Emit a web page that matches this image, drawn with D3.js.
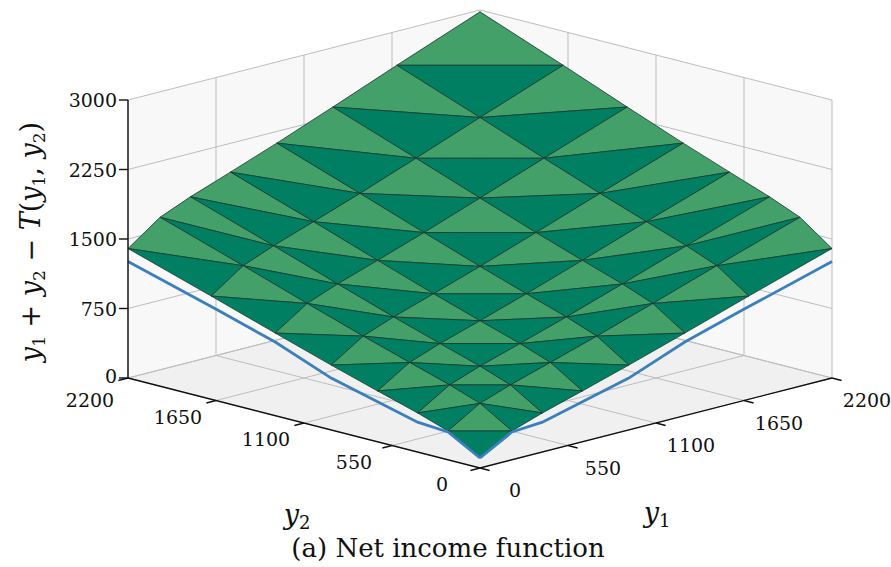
<!DOCTYPE html>
<html lang="en">
<head>
<meta charset="UTF-8">
<title>Net income function</title>
<script src="https://d3js.org/d3.v7.min.js"></script>
<style>
  body { margin: 0; background: #fff; }
  text { font-family: "DejaVu Serif", "Liberation Serif", serif; fill: #111; }
</style>
</head>
<body>
<svg id="chart" width="891" height="567"></svg>
<script>
// grid nodes (same for y1 and y2) and net income on them
const grid = [0, 200, 390, 640, 930, 1280, 1680, 2200];
const netIncome = [
  [108, 311, 422, 549, 700, 891, 1114, 1397],
  [311, 521, 636, 768, 924, 1122, 1353, 1646],
  [422, 636, 754, 888, 1047, 1249, 1484, 1783],
  [549, 768, 888, 1024, 1187, 1393, 1634, 1939],
  [700, 924, 1047, 1187, 1354, 1565, 1811, 2124],
  [891, 1122, 1249, 1393, 1565, 1783, 2036, 2359],
  [1114, 1353, 1484, 1634, 1811, 2036, 2299, 2633],
  [1397, 1646, 1783, 1939, 2124, 2359, 2633, 2980]
];
// single-earner curve drawn on both side planes
const singleY = [0, 200, 390, 930, 1280, 1640, 2200];
const singleZ = [108, 300, 322, 560, 794, 980, 1257];

const xyTicks = [0, 550, 1100, 1650, 2200];
const zTicks = [0, 750, 1500, 2250, 3000];

const svg = d3.select("#chart");

// oblique projection built from linear scales
const origin = [480, 468];
const s1x = d3.scaleLinear().domain([0, 2200]).range([0, 352]);
const s1y = d3.scaleLinear().domain([0, 2200]).range([0, -90]);
const s2x = d3.scaleLinear().domain([0, 2200]).range([0, -352]);
const s2y = d3.scaleLinear().domain([0, 2200]).range([0, -90]);
const sz = d3.scaleLinear().domain([0, 3000]).range([0, -278]);

function proj(a, b, z) {
  return [origin[0] + s1x(a) + s2x(b), origin[1] + s1y(a) + s2y(b) + sz(z)];
}
const line = d3.line();
const poly = pts => line(pts) + "Z";

// walls and floor
svg.append("path").attr("d", poly([proj(0,0,0), proj(2200,0,0), proj(2200,2200,0), proj(0,2200,0)]))
  .attr("fill", "#f0f0f0");
svg.append("path").attr("d", poly([proj(0,2200,0), proj(2200,2200,0), proj(2200,2200,3000), proj(0,2200,3000)]))
  .attr("fill", "#f8f8f8");
svg.append("path").attr("d", poly([proj(2200,0,0), proj(2200,2200,0), proj(2200,2200,3000), proj(2200,0,3000)]))
  .attr("fill", "#f8f8f8");

const gridG = svg.append("g").attr("stroke", "#bdbdbd").attr("stroke-width", 1).attr("fill", "none");
xyTicks.forEach(t => {
  gridG.append("path").attr("d", line([proj(t,0,0), proj(t,2200,0), proj(t,2200,3000)]));
  gridG.append("path").attr("d", line([proj(0,t,0), proj(2200,t,0), proj(2200,t,3000)]));
});
zTicks.forEach(z => {
  gridG.append("path").attr("d", line([proj(0,2200,z), proj(2200,2200,z), proj(2200,0,z)]));
});

// surface, back to front
const cells = [];
for (let i = 0; i < grid.length - 1; i++)
  for (let j = 0; j < grid.length - 1; j++) cells.push([i, j]);
cells.sort((p, q) => (q[0] + q[1]) - (p[0] + p[1]));
const P = (i, j) => proj(grid[i], grid[j], netIncome[i][j]);
const surf = svg.append("g").attr("stroke", "#17392f").attr("stroke-width", 0.8).attr("stroke-linejoin", "round");
cells.forEach(([i, j]) => {
  surf.append("path").attr("d", poly([P(i+1,j), P(i+1,j+1), P(i,j+1)])).attr("fill", "#43a068");
  surf.append("path").attr("d", poly([P(i,j), P(i+1,j), P(i,j+1)])).attr("fill", "#007f62");
});

// single earner lines
const blue = svg.append("g").attr("fill", "none").attr("stroke", "#3b7fc0").attr("stroke-width", 2.8);
blue.append("path").attr("d", line(singleY.map((y, k) => proj(0, y, singleZ[k]))));
blue.append("path").attr("d", line(singleY.map((y, k) => proj(y, 0, singleZ[k]))));

// axes
const ax = svg.append("g").attr("stroke", "#111").attr("stroke-width", 1.4).attr("fill", "none");
ax.append("path").attr("d", line([proj(0,2200,0), proj(0,2200,3000)]));
ax.append("path").attr("d", line([proj(0,2200,0), proj(0,0,0), proj(2200,0,0)]));
zTicks.forEach(z => {
  const p = proj(0, 2200, z);
  ax.append("path").attr("d", line([[p[0] - 9, p[1]], p]));
  svg.append("text").attr("x", p[0] - 11).attr("y", p[1] + (z === 0 ? 5 : 7)).attr("text-anchor", "end")
    .attr("font-size", 19).text(z);
});
xyTicks.forEach(t => {
  // y2 axis ticks point away along -y1
  const a = proj(0, t, 0), a2 = proj(-60, t, 0);
  ax.append("path").attr("d", line([a, a2]));
  svg.append("text").attr("x", a[0] - 38).attr("y", a[1] + (t === 2200 ? 29 : 23)).attr("text-anchor", "middle")
    .attr("font-size", 19).text(t);
  const b = proj(t, 0, 0), b2 = proj(t, -60, 0);
  ax.append("path").attr("d", line([b, b2]));
  svg.append("text").attr("x", b[0] + 35).attr("y", b[1] + 29).attr("text-anchor", "middle")
    .attr("font-size", 19).text(t);
});

// axis titles
const t2 = svg.append("text").attr("x", 297).attr("y", 524).attr("text-anchor", "middle").attr("font-size", 27);
t2.append("tspan").attr("font-style", "italic").text("y");
t2.append("tspan").attr("font-size", 18).attr("dy", 5).text("2");
const t1 = svg.append("text").attr("x", 657).attr("y", 522).attr("text-anchor", "middle").attr("font-size", 27);
t1.append("tspan").attr("font-style", "italic").text("y");
t1.append("tspan").attr("font-size", 18).attr("dy", 5).text("1");

const zl = svg.append("text").attr("transform", "translate(40,242) rotate(-90)")
  .attr("text-anchor", "middle").attr("font-size", 27);
const sub = (s) => { zl.append("tspan").attr("font-size", 17).attr("dy", 5).text(s); };
const it = (s, dy) => { zl.append("tspan").attr("font-style", "italic").attr("dy", dy).text(s); };
it("y", 0); sub("1"); zl.append("tspan").attr("dy", -5).text(" + "); it("y", 0); sub("2");
zl.append("tspan").attr("dy", -5).text(" \u2212 "); it("T", 0);
zl.append("tspan").text("("); it("y", 0); sub("1"); zl.append("tspan").attr("dy", -5).text(", ");
it("y", 0); sub("2"); zl.append("tspan").attr("dy", -5).text(")");

svg.append("text").attr("x", 448).attr("y", 557).attr("text-anchor", "middle")
  .attr("font-size", 26).text("(a) Net income function");
</script>
</body>
</html>
